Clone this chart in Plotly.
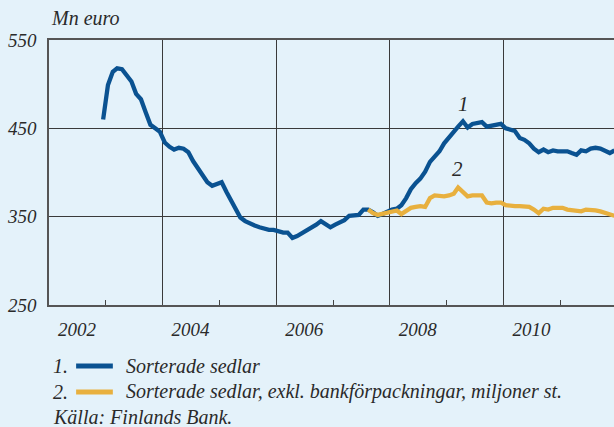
import plotly.graph_objects as go

# ---- data (monthly) ----
blue_name = "Sorterade sedlar"
yellow_name = "Sorterade sedlar, exkl. bankförpackningar, miljoner st."
source_text = "Källa: Finlands Bank."
y_unit = "Mn euro"

blue_start = (2002, 12)
blue_values = [
    460,
    499, 514, 518, 517, 511, 503, 489, 483, 468, 454, 450, 446,
    434, 429, 426, 428, 427, 423, 413, 405, 396, 389, 385, 387,
    389, 378, 369, 359, 349, 345, 342, 340, 338, 336, 335, 335,
    333, 332, 332, 326, 328, 331, 334, 337, 341, 345, 341, 338,
    341, 343, 346, 351, 351, 352, 358, 358, 355, 351, 353, 356,
    358, 359, 363, 371, 381, 388, 393, 401, 412, 418, 424, 433,
    440, 447, 452, 458, 451, 455, 456, 457, 452, 453, 454, 455,
    450, 448, 447, 439, 437, 433, 427, 423, 426, 423, 425, 424,
    424, 424, 422, 420, 425, 424, 427, 428, 427, 425, 422, 425,
]
yellow_start = (2007, 8)
yellow_values = [
    358, 354, 352, 353, 354,
    355, 357, 353, 357, 360, 361, 362, 361, 371, 374, 373, 373,
    374, 376, 383, 378, 373, 374, 374, 374, 366, 365, 366, 366,
    363, 362, 362, 362, 362, 361, 358, 354, 359, 358, 360, 360,
    360, 358, 357, 357, 356, 358, 358, 357, 356, 354, 352, 351,
]
year_ticks = ["2002", "2004", "2006", "2008", "2010"]
y_ticks = [250, 350, 450, 550]
label_pos = [("1", "2009-04-18", 478), ("2", "2009-03-13", 404)]


def month_dates(start, n):
    y, m = start
    out = []
    for _ in range(n):
        out.append(f"{y}-{m:02d}-15")
        m += 1
        if m > 12:
            m = 1
            y += 1
    return out


blue_x = month_dates(blue_start, len(blue_values))
yellow_x = month_dates(yellow_start, len(yellow_values))

BLUE = "#0A5291"
YELLOW = "#E8B03E"
BG = "#E4F2FA"
FONT = "Liberation Serif"
TXT = "#2a2a2a"

fig = go.Figure()
fig.add_trace(go.Scatter(x=blue_x, y=blue_values, mode="lines", name=blue_name,
                         line=dict(color=BLUE, width=4.3), showlegend=False))
fig.add_trace(go.Scatter(x=yellow_x, y=yellow_values, mode="lines", name=yellow_name,
                         line=dict(color=YELLOW, width=4.3), showlegend=False))

fig.update_layout(
    width=614, height=427,
    margin=dict(l=49, r=0, t=40, b=122),
    paper_bgcolor=BG, plot_bgcolor=BG,
    font=dict(family=FONT, style="italic", size=19, color=TXT),
    xaxis=dict(
        type="date",
        range=["2002-01-01", "2011-12-12"],
        tickvals=[f"{t}-01-01" for t in year_ticks],
        ticktext=year_ticks,
        ticklabelshift=28,
        ticklabelstandoff=6,
        ticks="inside", ticklen=5, tickcolor="#444", tickwidth=1,
        showgrid=True, gridcolor="#3a3a3a", gridwidth=1,
        showline=True, linecolor="#555", linewidth=1.5, mirror=True,
        minor=dict(dtick="M12", tick0="2002-01-01", ticks="inside", ticklen=5,
                   tickcolor="#444", showgrid=False),
        tickfont=dict(family=FONT, style="italic", size=19, color=TXT),
        zeroline=False,
    ),
    yaxis=dict(
        range=[250, 550],
        tickvals=y_ticks,
        ticks="", ticklabelstandoff=7,
        showgrid=True, gridcolor="#3a3a3a", gridwidth=1,
        showline=True, linecolor="#555", linewidth=1.5,
        tickfont=dict(family=FONT, style="italic", size=19, color=TXT),
        zeroline=False,
    ),
)

# unit label
fig.add_annotation(text=y_unit, xref="paper", yref="paper", x=0, y=1, yshift=9,
                   xanchor="left", yanchor="bottom", showarrow=False,
                   font=dict(family=FONT, style="italic", size=20, color=TXT))

# series labels
for txt, xd, yv in label_pos:
    fig.add_annotation(text=txt, x=xd, y=yv, showarrow=False,
                       font=dict(family=FONT, style="italic", size=21, color=TXT))

# custom legend
rows = [("1.", blue_name, BLUE, -0.2302), ("2.", yellow_name, YELLOW, -0.3283)]
for num, name, col, yp in rows:
    fig.add_annotation(text=num, xref="paper", yref="paper", x=0.0035, y=yp,
                       xanchor="left", yanchor="middle", showarrow=False,
                       font=dict(family=FONT, style="italic", size=20, color=TXT))
    fig.add_shape(type="line", xref="paper", yref="paper", x0=0.048, x1=0.113,
                  y0=yp, y1=yp, line=dict(color=col, width=5))
    fig.add_annotation(text=name, xref="paper", yref="paper", x=0.1336, y=yp,
                       xanchor="left", yanchor="middle", showarrow=False,
                       font=dict(family=FONT, style="italic", size=20, color=TXT))
fig.add_annotation(text=source_text, xref="paper", yref="paper", x=0.0035, y=-0.4226,
                   xanchor="left", yanchor="middle", showarrow=False,
                   font=dict(family=FONT, style="italic", size=20, color=TXT))

fig.write_html("out.html", config={"displayModeBar": False},
               post_script="document.body.style.margin='0';")
